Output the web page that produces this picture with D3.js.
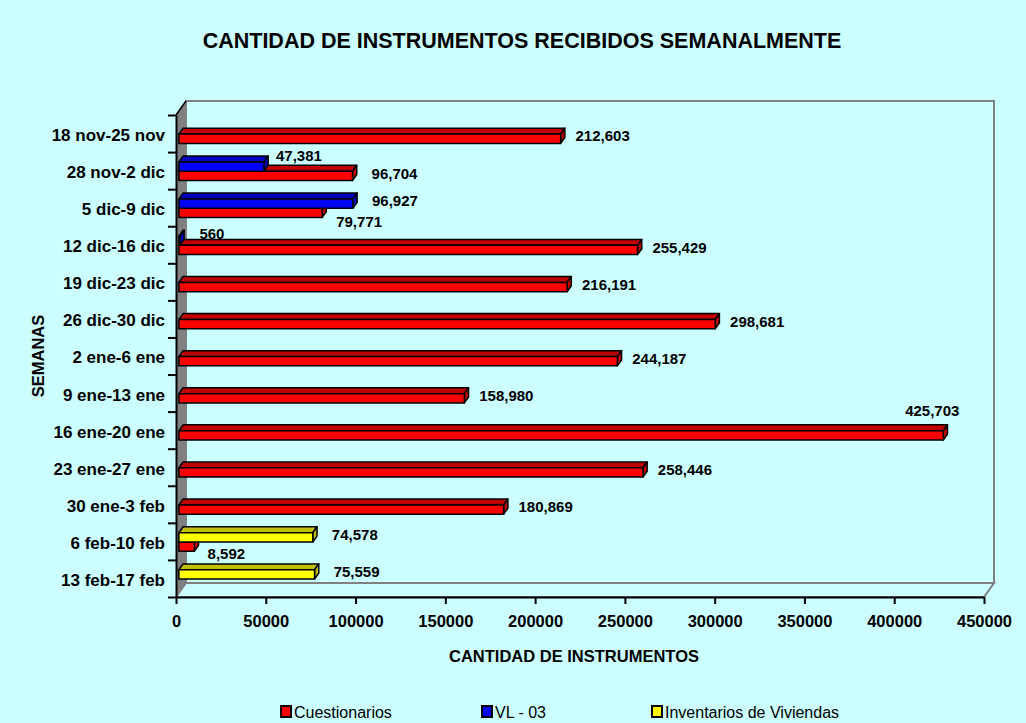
<!DOCTYPE html>
<html>
<head>
<meta charset="utf-8">
<script src="https://cdn.jsdelivr.net/npm/d3@7"></script>
<style>
body { margin: 0; background: #ccffff; }
svg { display: block; }
text { font-family: "Liberation Sans", Arial, sans-serif; fill: #000; }
</style>
</head>
<body>
<div id="chart"></div>
<script>
// weeks, top to bottom
const semanas = ["18 nov-25 nov", "28 nov-2 dic", "5 dic-9 dic", "12 dic-16 dic", "19 dic-23 dic",
    "26 dic-30 dic", "2 ene-6 ene", "9 ene-13 ene", "16 ene-20 ene", "23 ene-27 ene",
    "30 ene-3 feb", "6 feb-10 feb", "13 feb-17 feb"];

const cuestionarios = [212603, 96704, 79771, 255429, 216191, 298681, 244187, 158980, 425703, 258446, 180869, 8592, null];
const vl03 = [null, 47381, 96927, 560, null, null, null, null, null, null, null, null, null];
const inventarios = [null, null, null, null, null, null, null, null, null, null, null, 74578, 75559];

const xTicks = [0, 50000, 100000, 150000, 200000, 250000, 300000, 350000, 400000, 450000];

const width = 1026;
const height = 723;

// plot front plane
const plot = { left: 176, right: 984, top: 115, bottom: 597 };
// wall depth (3d offset)
const depth = { x: 10, y: -14 };
const front = { x: depth.x * 0.29, y: depth.y * 0.29 };
const barDepth = { x: depth.x * 0.42, y: depth.y * 0.42 };

const series = [
    { name: "Cuestionarios", values: cuestionarios, color: "#ff0000", top: "#c00000", slot: 2 },
    { name: "VL - 03", values: vl03, color: "#0000ff", top: "#0000c0", slot: 1 },
    { name: "Inventarios de Viviendas", values: inventarios, color: "#ffff00", top: "#c0c000", slot: 1 }
];

// label tweaks where excel moved them off the bar end
const nudge = {
    "VL - 03|1": { dx: -7, dy: -8 },
    "Cuestionarios|2": { dx: -5, dy: 11 },
    "VL - 03|3": { dx: -10, dy: -4 },
    "Cuestionarios|8": { dx: -53, dy: -22 },
    "Cuestionarios|11": { dx: -10, dy: 10 }
};

const fmt = d3.format(",");

const svg = d3.select("#chart").append("svg")
    .attr("width", width)
    .attr("height", height);

svg.append("rect").attr("width", width).attr("height", height).attr("fill", "#ccffff");

const x = d3.scaleLinear().domain([0, 450000]).range([plot.left, plot.right]);
const y = d3.scaleBand().domain(semanas).range([plot.top, plot.bottom]).padding(0);
const slotScale = d3.scaleBand().domain([0, 1, 2]).range([0, y.bandwidth()]).paddingInner(0).paddingOuter(0.5);

// title
svg.append("text")
    .attr("x", 522).attr("y", 40)
    .attr("dy", "0.35em")
    .attr("text-anchor", "middle")
    .style("font-size", "21.5px").style("font-weight", "bold")
    .text("CANTIDAD DE INSTRUMENTOS RECIBIDOS SEMANALMENTE");

// walls
const gray = "#808080";
svg.append("rect")
    .attr("x", plot.left + depth.x).attr("y", plot.top + depth.y)
    .attr("width", plot.right - plot.left).attr("height", plot.bottom - plot.top)
    .attr("fill", "none").attr("stroke", gray).attr("stroke-width", 2);

svg.append("path")
    .attr("d", `M${plot.left},${plot.bottom} L${plot.right},${plot.bottom} L${plot.right + depth.x},${plot.bottom + depth.y} L${plot.left + depth.x},${plot.bottom + depth.y}Z`)
    .attr("fill", "#ccffff").attr("stroke", gray).attr("stroke-width", 2);

svg.append("path")
    .attr("d", `M${plot.left},${plot.top} L${plot.left + depth.x},${plot.top + depth.y} L${plot.left + depth.x},${plot.bottom + depth.y} L${plot.left},${plot.bottom}Z`)
    .attr("fill", gray);

svg.append("line")
    .attr("x1", plot.left).attr("y1", plot.top)
    .attr("x2", plot.left + depth.x).attr("y2", plot.top + depth.y)
    .attr("stroke", "#000").attr("stroke-width", 1.5);

// bars: bottom slot first so upper bars cover the top faces below them
const bars = [];
series.forEach(s => {
    s.values.forEach((v, i) => {
        if (v == null) return;
        bars.push({ s, i, v });
    });
});
bars.sort((a, b) => b.s.slot - a.s.slot);

const barG = svg.append("g");
bars.forEach(b => {
    const x0 = x(0) + front.x;
    const x1 = x(b.v) + front.x;
    const y0 = y(semanas[b.i]) + front.y + slotScale(b.s.slot);
    const h = slotScale.bandwidth();
    const dx = barDepth.x, dy = barDepth.y;
    b.x1 = x1;
    b.yc = y0 + h / 2;

    const g = barG.append("g")
        .attr("stroke", "#000").attr("stroke-width", 1.5).attr("stroke-linejoin", "round");
    g.append("path")
        .attr("d", `M${x0},${y0} L${x0 + dx},${y0 + dy} L${x1 + dx},${y0 + dy} L${x1},${y0}Z`)
        .attr("fill", b.s.top);
    g.append("path")
        .attr("d", `M${x1},${y0} L${x1 + dx},${y0 + dy} L${x1 + dx},${y0 + dy + h} L${x1},${y0 + h}Z`)
        .attr("fill", b.s.top);
    g.append("rect")
        .attr("x", x0).attr("y", y0)
        .attr("width", Math.max(0, x1 - x0)).attr("height", h)
        .attr("fill", b.s.color);
});

// data labels
bars.forEach(b => {
    const n = nudge[b.s.name + "|" + b.i] || { dx: 0, dy: 0 };
    svg.append("text")
        .attr("x", b.x1 + 42 + n.dx)
        .attr("y", b.yc - 2.5 + n.dy)
        .attr("dy", "0.35em")
        .attr("text-anchor", "middle")
        .style("font-size", "15px").style("font-weight", "bold")
        .text(fmt(b.v));
});

// x axis
const xAxis = svg.append("g")
    .attr("transform", `translate(0,${plot.bottom})`)
    .call(d3.axisBottom(x).tickValues(xTicks).tickSize(7).tickSizeOuter(0).tickPadding(11).tickFormat(d3.format("d")));
xAxis.select(".domain").attr("stroke", "#000").attr("stroke-width", 2);
xAxis.selectAll(".tick line").attr("stroke", "#000").attr("stroke-width", 2);
xAxis.selectAll(".tick text")
    .style("font-size", "16.5px").style("font-weight", "bold")
    .attr("font-family", null);

// y axis: ticks between the weeks
const yEdge = d3.scaleLinear().domain([0, semanas.length]).range([plot.top, plot.bottom]);
const yAxis = svg.append("g")
    .attr("transform", `translate(${plot.left},0)`)
    .call(d3.axisLeft(yEdge).tickValues(d3.range(semanas.length + 1)).tickSize(8).tickSizeOuter(0).tickFormat(""));
yAxis.select(".domain").attr("stroke", "#000").attr("stroke-width", 2);
yAxis.selectAll(".tick line").attr("stroke", "#000").attr("stroke-width", 2);

svg.append("g").selectAll("text")
    .data(semanas)
    .enter()
    .append("text")
    .attr("x", 165)
    .attr("y", d => y(d) + y.bandwidth() / 2 + 1.5)
    .attr("dy", "0.35em")
    .attr("text-anchor", "end")
    .style("font-size", "17px").style("font-weight", "bold")
    .text(d => d);

// axis titles
svg.append("text")
    .attr("x", 574).attr("y", 656)
    .attr("dy", "0.35em")
    .attr("text-anchor", "middle")
    .style("font-size", "16.5px").style("font-weight", "bold")
    .text("CANTIDAD DE INSTRUMENTOS");

svg.append("text")
    .attr("transform", "translate(38,356) rotate(-90)")
    .attr("dy", "0.35em")
    .attr("text-anchor", "middle")
    .style("font-size", "16.5px").style("font-weight", "bold")
    .text("SEMANAS");

// legend
const legendX = [281, 482, 652];
const legend = svg.append("g").selectAll("g")
    .data(series)
    .enter()
    .append("g")
    .attr("transform", (d, i) => `translate(${legendX[i]},712)`);

legend.append("rect")
    .attr("x", 0).attr("y", -6)
    .attr("width", 10).attr("height", 11)
    .attr("fill", d => d.color)
    .attr("stroke", "#000").attr("stroke-width", 2);

legend.append("text")
    .attr("x", 13).attr("y", 0)
    .attr("dy", "0.35em")
    .style("font-size", "16px")
    .text(d => d.name);
</script>
</body>
</html>
